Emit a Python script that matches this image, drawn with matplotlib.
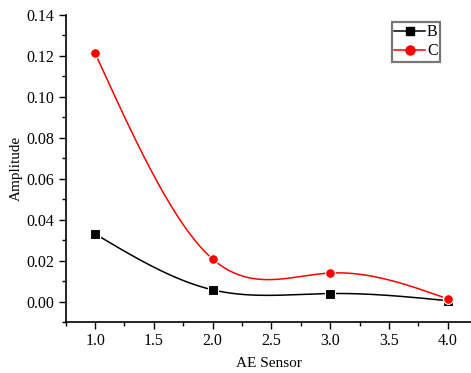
import numpy as np
import matplotlib
matplotlib.use("Agg")
import matplotlib.pyplot as plt
from matplotlib.ticker import MultipleLocator, FormatStrFormatter
from matplotlib.lines import Line2D

sensors = [1.0, 2.0, 3.0, 4.0]
series_B = [0.033, 0.0057, 0.0039, 0.0004]
series_C = [0.1212, 0.0207, 0.0139, 0.0013]
x_ticks = [1.0, 1.5, 2.0, 2.5, 3.0, 3.5, 4.0]
y_ticks = [0.00, 0.02, 0.04, 0.06, 0.08, 0.10, 0.12, 0.14]


def natural_spline(x, y, n=300):
    x = np.asarray(x, float)
    y = np.asarray(y, float)
    m = len(x)
    h = np.diff(x)
    A = np.zeros((m, m))
    r = np.zeros(m)
    A[0, 0] = A[-1, -1] = 1
    for i in range(1, m - 1):
        A[i, i - 1] = h[i - 1]
        A[i, i] = 2 * (h[i - 1] + h[i])
        A[i, i + 1] = h[i]
        r[i] = 3 * ((y[i + 1] - y[i]) / h[i] - (y[i] - y[i - 1]) / h[i - 1])
    c = np.linalg.solve(A, r)
    xs = np.linspace(x[0], x[-1], n)
    ys = np.empty_like(xs)
    for k, xv in enumerate(xs):
        i = min(np.searchsorted(x, xv, side="right") - 1, m - 2)
        dx = xv - x[i]
        b = (y[i + 1] - y[i]) / h[i] - h[i] * (2 * c[i] + c[i + 1]) / 3
        d = (c[i + 1] - c[i]) / (3 * h[i])
        ys[k] = y[i] + b * dx + c[i] * dx ** 2 + d * dx ** 3
    return xs, ys


plt.rcParams['font.family'] = ['Liberation Serif', 'DejaVu Serif']

fig = plt.figure(figsize=(4.71, 3.73), dpi=100)
ax = fig.add_axes([0.1395, 0.1367, 0.861, 0.824])

for vals, col, mk in [(series_B, 'black', 's'), (series_C, 'red', 'o')]:
    xs, ys = natural_spline(sensors, vals)
    ax.plot(xs, ys, color=col, lw=1.1, zorder=2)
    ax.plot(sensors, vals, linestyle='none', marker=mk, color=col,
            markersize=7 if mk == 'o' else 6.5, markeredgecolor='white',
            markeredgewidth=0.8, zorder=3)

handles = [Line2D([], [], color='black', lw=1.1, marker='s', markersize=6),
           Line2D([], [], color='red', lw=1.1, marker='o', markersize=6.5)]
leg = ax.legend(handles, ['B', 'C'], loc='upper left', bbox_to_anchor=(0.8035, 0.977),
                fontsize=11.5, frameon=True, fancybox=False, handlelength=1.95,
                handletextpad=0.12, borderpad=0.15, labelspacing=0.2, borderaxespad=0)
leg.get_frame().set_edgecolor('#555555')
leg.get_frame().set_linewidth(1.6)

ax.set_xlim(0.75, 4.2)
ax.set_ylim(-0.01, 0.14)
ax.set_xticks(x_ticks)
ax.set_yticks(y_ticks)
ax.xaxis.set_major_formatter(FormatStrFormatter('%.1f'))
ax.yaxis.set_major_formatter(FormatStrFormatter('%.2f'))
ax.xaxis.set_minor_locator(MultipleLocator(0.25))
ax.yaxis.set_minor_locator(MultipleLocator(0.01))
ax.tick_params(which='major', direction='out', length=5, width=1, labelsize=11.5, pad=3)
ax.tick_params(which='minor', direction='out', length=3, width=1)
for s in ['top', 'right']:
    ax.spines[s].set_visible(False)
for s in ['left', 'bottom']:
    ax.spines[s].set_linewidth(1.2)

ax.set_xlabel('AE Sensor', fontsize=11, labelpad=6)
ax.set_ylabel('Amplitude', fontsize=11, labelpad=3)

fig.savefig('out.png', dpi=100)
